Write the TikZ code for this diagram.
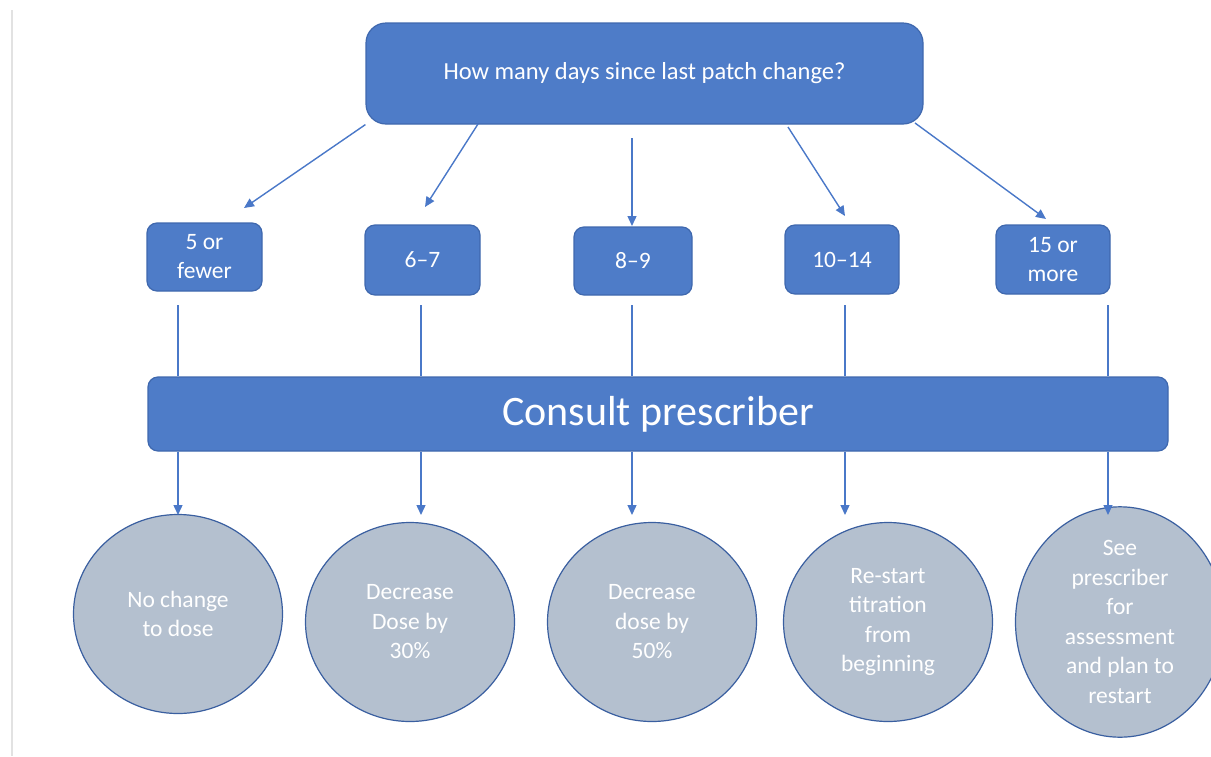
\documentclass[tikz,border=0pt]{standalone}
\usepackage{fontspec}
\setmainfont{Carlito}
\usetikzlibrary{arrows.meta,shapes.geometric}
\definecolor{boxblue}{HTML}{4E7CC8}
\definecolor{boxedge}{HTML}{3F68AE}
\definecolor{discgrey}{HTML}{B4C0CF}
\definecolor{discedge}{HTML}{3A5FA0}
\definecolor{linkblue}{HTML}{4A78C8}
\definecolor{pagegrey}{HTML}{E2E2E2}
\tikzset{
  daybox/.style={draw=boxedge, fill=boxblue, line width=1.2pt, rounded corners=10pt, font=\fontsize{23.5}{29}\selectfont},
  outcome/.style={ellipse, draw=discedge, fill=discgrey, line width=1.2pt, minimum width=209pt, minimum height=199pt, font=\fontsize{23.5}{29.5}\selectfont},
  link/.style={linkblue, line width=1.4pt}
}
\begin{document}
\begin{tikzpicture}[x=1pt, y=-1pt, >={Triangle[length=10pt, width=9pt]},
    every node/.style={text=white, align=center, inner sep=0pt}]
  \useasboundingbox (0,0) rectangle (1211,756);
  \draw[pagegrey, line width=2pt] (12,10) -- (12,756);

  \node[daybox, rounded corners=20pt, minimum width=557pt, minimum height=101pt, font=\fontsize{24.5}{29}\selectfont] (ask) at (644.5,73.5) {How many days since last patch change?};

  \node[daybox, minimum width=115pt, minimum height=68pt] (d5) at (204.5,257) {5 or\\fewer};
  \node[daybox, minimum width=115pt, minimum height=70pt] (d67) at (422.5,260) {6--7};
  \node[daybox, minimum width=118pt, minimum height=68pt] (d89) at (633,261) {8--9};
  \node[daybox, minimum width=114pt, minimum height=69pt] (d1014) at (842,259.5) {10--14};
  \node[daybox, minimum width=114pt, minimum height=69pt] (d15) at (1053,259.5) {15 or\\more};

  \node[daybox, minimum width=1020pt, minimum height=74pt, font=\fontsize{42}{50}\selectfont] (consult) at (658,414) {Consult prescriber};

  \node[outcome] (nochange) at (178,614) {No change\\to dose};
  \node[outcome] (cut30) at (410,622) {Decrease\\Dose by\\30\%};
  \node[outcome] (cut50) at (652,622) {Decrease\\dose by\\50\%};
  \node[outcome] (restart) at (888,622) {Re-start\\titration\\from\\beginning};
  \node[outcome] (review) at (1120,622) {See\\prescriber\\for\\assessment\\and plan to\\restart};

  \coordinate (a2) at (478,124);
  \coordinate (a3) at (632,138);
  \coordinate (a4) at (788,127);
  \coordinate (a5) at (915,123);
  \coordinate (e1) at (244,208);
  \coordinate (e2) at (425,207);
  \coordinate (e3) at (632,226);
  \coordinate (e4) at (845,216);
  \coordinate (e5) at (1046,219);
  \draw[link, ->] (ask.south west) -- (e1);
  \draw[link, ->] (a2) -- (e2);
  \draw[link, ->] (a3) -- (e3);
  \draw[link, ->] (a4) -- (e4);
  \draw[link, ->] (a5) -- (e5);

  \coordinate (u1) at (178,305);
  \coordinate (u2) at (421,305);
  \coordinate (u3) at (632,305);
  \coordinate (u4) at (845,305);
  \coordinate (u5) at (1108,305);
  \coordinate (v1) at (178,515);
  \coordinate (v2) at (421,515);
  \coordinate (v3) at (632,515);
  \coordinate (v4) at (845,515);
  \coordinate (v5) at (1108,515);
  \draw[link] (u1) -- (u1 |- consult.north);
  \draw[link] (u2) -- (u2 |- consult.north);
  \draw[link] (u3) -- (u3 |- consult.north);
  \draw[link] (u4) -- (u4 |- consult.north);
  \draw[link] (u5) -- (u5 |- consult.north);
  \draw[link, ->] (v1 |- consult.south) -- (v1);
  \draw[link, ->] (v2 |- consult.south) -- (v2);
  \draw[link, ->] (v3 |- consult.south) -- (v3);
  \draw[link, ->] (v4 |- consult.south) -- (v4);
  \draw[link, ->] (v5 |- consult.south) -- (v5);
\end{tikzpicture}
\end{document}
